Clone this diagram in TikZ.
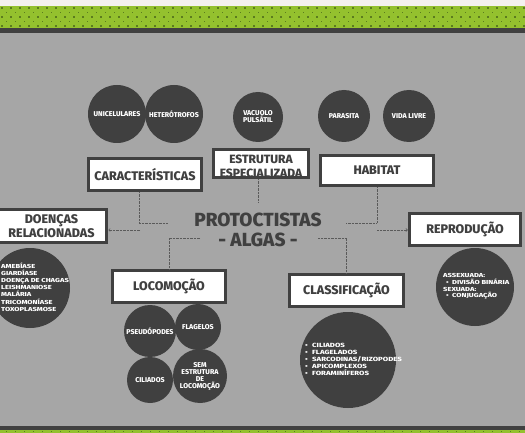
\documentclass[tikz,border=0pt]{standalone}
\usepackage{fontspec}
\setmainfont{Fira Sans}[BoldFont={Fira Sans ExtraBold}]
\newfontfamily\listfont{Fira Sans}[FakeStretch=1.3,BoldFont={Fira Sans ExtraBold}]
\usetikzlibrary{positioning,arrows.meta}
\definecolor{bggray}{HTML}{A6A6A6}
\definecolor{dkgray}{HTML}{404040}
\definecolor{lingray}{HTML}{5A5A5A}
\definecolor{leaf}{HTML}{94C12E}
\definecolor{darkleaf}{HTML}{5B7C1E}
\definecolor{cream}{HTML}{F4F1EE}
\begin{document}
\begin{tikzpicture}[x=1pt,y=-1pt,
  topic/.style={draw=dkgray,line width=3.5pt,fill=white,text=dkgray,align=center,inner sep=0pt,
    font=\bfseries\fontsize{12.5}{13}\selectfont},
  bubble/.style={circle,fill=dkgray,text=white,align=center,inner sep=0pt,
    font=\bfseries\fontsize{7}{7}\selectfont},
  listtext/.style={text=white,align=left,inner sep=0pt,font=\listfont\bfseries\fontsize{5.8}{7.2}\selectfont},
  link/.style={draw=lingray,dash pattern=on 0.7pt off 0.7pt,line width=0.7pt},
  tip/.style={-{Straight Barb[length=1.5pt,width=3pt]}}]
\useasboundingbox (0,0) rectangle (525,433);
\fill[bggray] (0,0) rectangle (525,433);
\fill[cream] (0,0) rectangle (525,6);
\fill[leaf] (0,6) rectangle (525,28);
\fill[dkgray] (0,28) rectangle (525,33);
\fill[dkgray] (0,426) rectangle (525,430);
\fill[leaf] (0,430) rectangle (525,433);
\foreach \i in {0,...,58}{
  \foreach \r in {8,17,26}
    \fill[darkleaf] (2+9*\i-0.8,\r-0.8) rectangle ++(1.6,1.6);
  \foreach \r in {12.5,21.5}
    \fill[darkleaf] (6.5+9*\i-0.8,\r-0.8) rectangle ++(1.6,1.6);
  \fill[darkleaf] (6.5+9*\i-0.6,431.5-0.6) rectangle ++(1.2,1.2);
}

\node[font=\bfseries\fontsize{19}{19.5}\selectfont,text=dkgray,align=center] (title) at (258,230) {PROTOCTISTAS\\- ALGAS -};

\node[topic,minimum width=113,minimum height=32] (car) at (145,174.5) {CARACTERÍSTICAS};
\node[topic,minimum width=95,minimum height=28] (est) at (261,163.5) {};
\node[font=\bfseries\fontsize{12}{13.5}\selectfont,text=dkgray,align=center,inner sep=0pt] (estt) at (261,166.5) {ESTRUTURA\\ESPECIALIZADA};
\node[topic,minimum width=113,minimum height=30] (hab) at (377,170.5) {HABITAT};
\node[topic,minimum width=110,minimum height=33,font=\bfseries\fontsize{12.5}{14}\selectfont] (doe) at (51.5,226) {DOENÇAS\\RELACIONADAS};
\node[topic,minimum width=111,minimum height=32] (rep) at (465,229.5) {REPRODUÇÃO};
\node[topic,minimum width=113,minimum height=32] (loc) at (169,286.5) {LOCOMOÇÃO};
\node[topic,minimum width=114,minimum height=32] (cla) at (346.5,290.5) {CLASSIFICAÇÃO};

\node[bubble,minimum size=58] (uni) at (117,114) {UNICELULARES};
\node[bubble,minimum size=58] (het) at (174,114) {HETERÓTROFOS};
\node[bubble,minimum size=50] (vac) at (258,117) {VACUOLO\\PULSÁTIL};
\node[bubble,minimum size=52] (par) at (344,116) {PARASITA};
\node[bubble,minimum size=52] (vid) at (409,116) {VIDA LIVRE};

\node[bubble,minimum size=80] (doec) at (30,288) {};
\node[listtext,anchor=west] (doel) at (1,287) {AMEBÍASE\\GIARDÍASE\\DOENÇA DE CHAGAS\\LEISHMANIOSE\\MALÁRIA\\TRICOMONÍASE\\TOXOPLASMOSE};
\node[bubble,minimum size=78] (repc) at (475,287) {};
\node[listtext,anchor=west,font=\listfont\bfseries\fontsize{5.8}{6.6}\selectfont] (repl) at (443,286.5) {ASSEXUADA:\\\hspace{3pt}\makebox[6pt][l]{•}DIVISÃO BINÁRIA\\SEXUADA:\\\hspace{3pt}\makebox[6pt][l]{•}CONJUGAÇÃO};
\node[bubble,minimum size=96] (clac) at (348,360) {};
\node[listtext,anchor=west,font=\listfont\bfseries\fontsize{6}{7}\selectfont] (clal) at (305,359) {\makebox[7pt][l]{•}CILIADOS\\\makebox[7pt][l]{•}FLAGELADOS\\\makebox[7pt][l]{•}SARCODINAS/RIZOPODES\\\makebox[7pt][l]{•}APICOMPLEXOS\\\makebox[7pt][l]{•}FORAMINÍFEROS};

\node[bubble,minimum size=52] (pse) at (150,331) {PSEUDÓPODES};
\node[bubble,minimum size=46] (fla) at (198,327) {FLAGELOS};
\node[bubble,minimum size=46] (cil) at (150,380) {CILIADOS};
\node[bubble,minimum size=54] (sem) at (200,376) {SEM\\ESTRUTURA\\DE\\LOCOMOÇÃO};

\coordinate (jcar) at (168,223);
\coordinate (jest) at (258,203);
\coordinate (jhab) at (346,223);
\coordinate (jdoe) at (140,230);
\coordinate (jrep) at (377,230);
\coordinate (jloc) at (200,238);
\coordinate (jcla) at (318,238);
\draw[link] ([xshift=-6pt]car.south) |- (jcar);
\draw[link] ([xshift=-3pt]est.south) -- (jest);
\draw[link] (hab.south) |- (jhab);
\draw[link,tip] (jdoe) -- (jdoe -| doe.east);
\draw[link,tip] (jrep) -- (jrep -| rep.west);
\draw[link] (jloc) -| (loc.north);
\draw[link] (jcla) -| (cla.north);
\end{tikzpicture}
\end{document}
